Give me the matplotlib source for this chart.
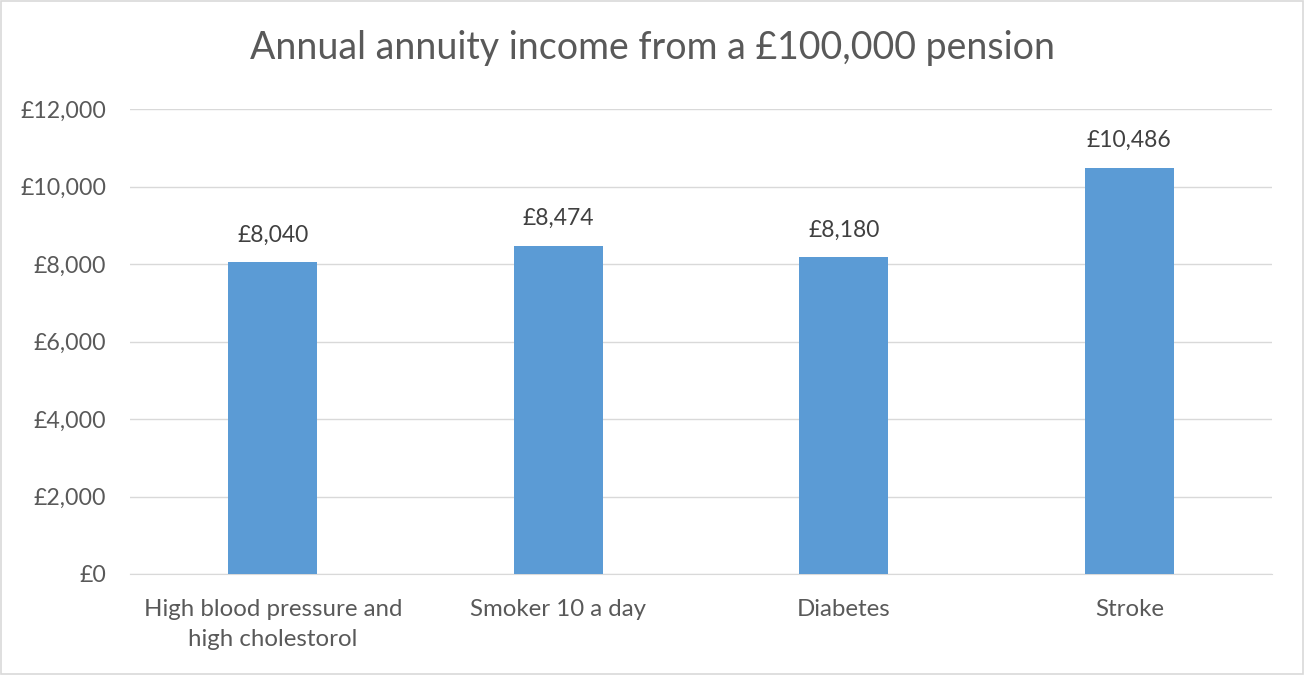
import matplotlib
matplotlib.use("Agg")
import matplotlib.pyplot as plt
from matplotlib.ticker import FuncFormatter
from matplotlib.patches import Rectangle

categories = ["High blood pressure and\nhigh cholestorol", "Smoker 10 a day", "Diabetes", "Stroke"]
values = [8040, 8474, 8180, 10486]
yticks = [0, 2000, 4000, 6000, 8000, 10000, 12000]

plt.rcParams['font.family'] = ['Lato', 'DejaVu Sans']
txt = '#595959'

fig = plt.figure(figsize=(13.04, 6.75), dpi=100)
ax = fig.add_axes([130/1304, 1-574/675, (1272-130)/1304, (574-109)/675])

x = list(range(len(categories)))
ax.bar(x, values, width=0.31, color='#5B9BD5', zorder=3)
for xi, v in zip(x, values):
    ax.annotate(f"£{v:,}", (xi, v), xytext=(0, 12), textcoords='offset points',
                ha='center', va='bottom', fontsize=16.5, color='#404040')

ax.set_xlim(-0.5, len(categories)-0.5)
ax.set_ylim(0, 12000)
ax.set_yticks(yticks)
ax.yaxis.set_major_formatter(FuncFormatter(lambda v, p: f"£{int(v):,}"))
ax.set_xticks(x)
ax.set_xticklabels(categories, fontsize=17.3, color=txt, linespacing=1.55)
ax.tick_params(axis='y', labelsize=16.7, labelcolor=txt, length=0, pad=17)
ax.tick_params(axis='x', length=0, pad=18)
ax.grid(axis='y', color='#D9D9D9', linewidth=1, zorder=0)
for s in ['top', 'right', 'left']:
    ax.spines[s].set_visible(False)
ax.spines['bottom'].set_color('#D9D9D9')

fig.text(0.5, 1-48/675, "Annual annuity income from a £100,000 pension", ha='center', va='center',
         fontsize=27, color=txt)
fig.patches.append(Rectangle((0.001, 0.001), 0.998, 0.998, transform=fig.transFigure,
                             fill=False, edgecolor='#D9D9D9', linewidth=1.2))

fig.savefig("out.png", dpi=100)
